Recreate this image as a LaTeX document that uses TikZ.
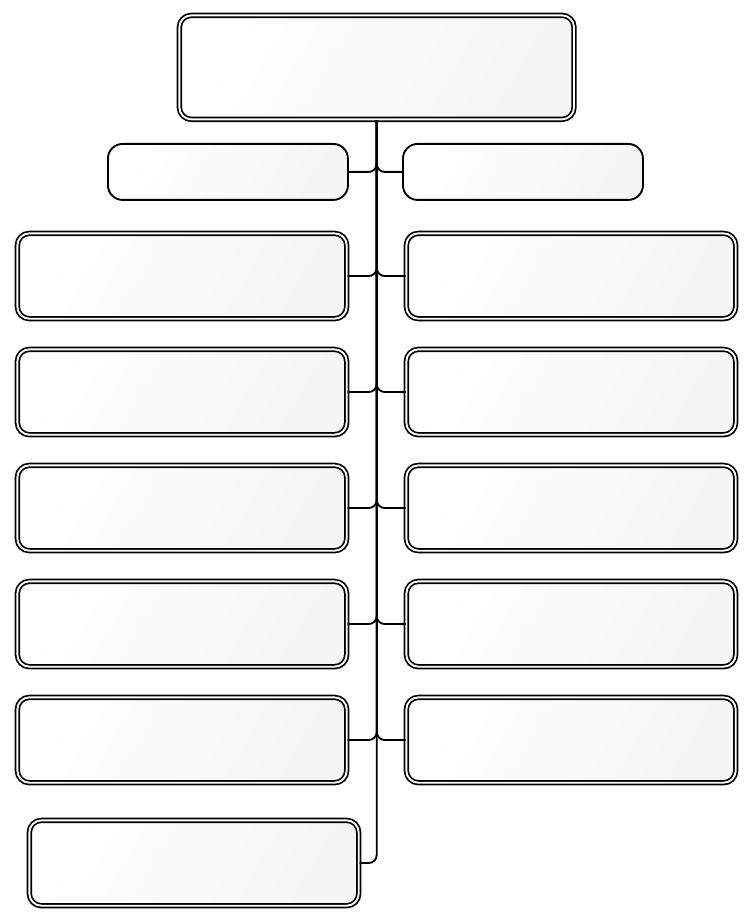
\documentclass[tikz,border=0pt]{standalone}
\begin{document}
\begin{tikzpicture}[x=0.75pt,y=-0.75pt,
  dbox/.style={draw=black,double=white,double distance=1.4pt,line width=1.3pt,
    rounded corners=9pt,left color=white,right color=gray!8,shading angle=60,
    inner sep=0pt,anchor=north west},
  sbox/.style={draw=black,line width=1.4pt,rounded corners=11pt,
    left color=white,right color=gray!8,shading angle=60,inner sep=0pt,anchor=north west},
  conn/.style={draw=black,line width=1.4pt,rounded corners=6pt}]
\useasboundingbox (0,0) rectangle (743,912);
% top
\node[dbox,minimum width=296pt,minimum height=78pt] (top) at (178.5,14.5) {};
% small row
\node[sbox,minimum width=180pt,minimum height=42pt] (s1) at (107,143) {};
\node[sbox,minimum width=180pt,minimum height=42pt] (s2) at (402,143) {};
% left and right columns
\foreach \i/\y in {1/230,2/346,3/462,4/578,5/694}{
  \node[dbox,minimum width=247pt,minimum height=64pt] (l\i) at (16.5,\y+2.5) {};
  \node[dbox,minimum width=247pt,minimum height=64pt] (r\i) at (405.5,\y+2.5) {};
}
\node[dbox,minimum width=247pt,minimum height=64pt] (b) at (28.5,819.5) {};
% connectors
\coordinate (t) at (top.south);
\draw[conn] (t) |- (s1.east);
\draw[conn] (t) |- (s2.west);
\foreach \i in {1,...,5}{
  \draw[conn] (t) |- (l\i.east);
  \draw[conn] (t) |- (r\i.west);
}
\draw[conn] (t) |- (b.east);
\end{tikzpicture}
\end{document}
